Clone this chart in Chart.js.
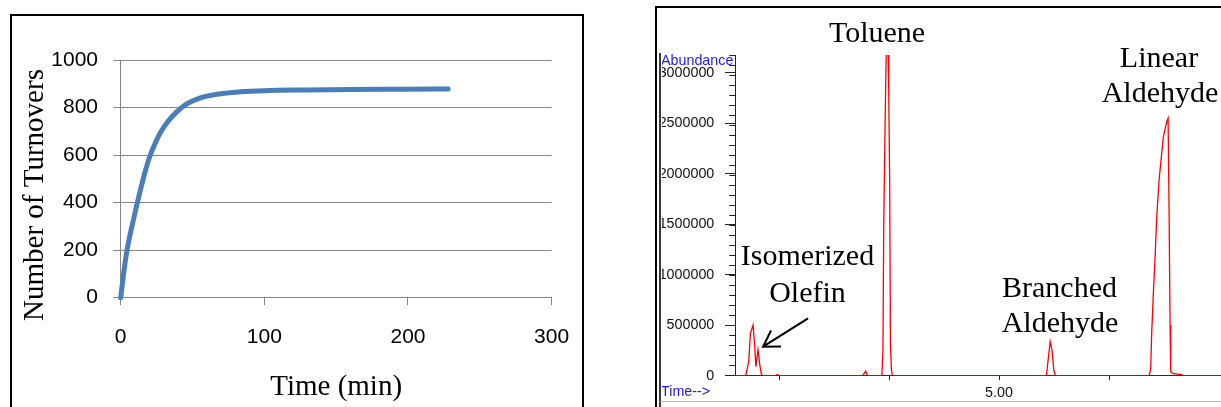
<!DOCTYPE html>
<html>
<head>
<meta charset="utf-8">
<script src="https://cdn.jsdelivr.net/npm/chart.js@4.4.1/dist/chart.umd.min.js"></script>
<style>
  html, body { margin: 0; padding: 0; background: #fff; overflow: hidden; }
  body { width: 1221px; height: 407px; position: relative; }
  .frame { position: absolute; box-sizing: border-box; }
  #leftFrame { left: 10px; top: 14px; width: 574px; height: 420px; border: 2px solid #000; }
  #rightFrame { left: 655px; top: 6px; width: 600px; height: 420px; border-left: 2px solid #000; border-top: 2px solid #000; }
  #rightInner { left: 659px; top: 53px; width: 2px; height: 360px; background: #3a3a3a; }
  #rightBottom { left: 660px; top: 401px; width: 561px; height: 1px; background: #b8b8b8; }
  canvas { position: absolute; }
  #turnoverChart { left: 12px; top: 16px; }
  #gcChart { left: 662px; top: 8px; }
</style>
</head>
<body>
<div class="frame" id="leftFrame"></div>
<div class="frame" id="rightFrame"></div>
<div class="frame" id="rightInner"></div>
<div class="frame" id="rightBottom"></div>
<canvas id="turnoverChart" width="570" height="391"></canvas>
<canvas id="gcChart" width="559" height="392"></canvas>
<script>
// left panel: turnovers vs time
const turnTime = [0, 2, 4, 6, 8, 11, 14, 17, 20, 24, 28, 33, 39, 46, 55, 67, 83, 100, 130, 160, 200, 228];
const turnCount = [0, 100, 185, 250, 305, 385, 460, 530, 590, 650, 698, 742, 782, 815, 840, 856, 866, 871, 874, 876, 877, 878];
const turnXTicks = [0, 100, 200, 300];
const turnXLabels = ['0', '100', '200', '300'];
const turnYTicks = [0, 200, 400, 600, 800, 1000];
const turnYLabels = ['0', '200', '400', '600', '800', '1000'];

// right panel: chromatogram (time in min, abundance)
const gcTime = [2.600, 2.697, 2.725, 2.740, 2.764, 2.779, 2.790, 2.809, 2.825, 2.840, 2.855,
  2.966, 2.985, 3.003, 3.761, 3.788, 3.806,
  3.929, 3.936, 3.945, 3.952, 3.964, 3.976, 3.984, 3.991, 3.997, 4.006, 4.013, 4.022, 4.031,
  5.431, 5.448, 5.465, 5.481, 5.498, 5.512,
  6.366, 6.379, 6.388, 6.403, 6.419, 6.434, 6.455, 6.473, 6.494, 6.525, 6.537, 6.546, 6.555, 6.561, 6.585, 6.662, 6.676,
  7.018];
const gcAbundance = [0, 0, 139000, 420000, 502000, 300000, 90000, 255000, 110000, 15000, 0,
  0, 12000, 0, 0, 45000, 0,
  0, 27000, 254000, 1475000, 2465000, 3300000, 3600000, 3250000, 2850000, 1940000, 305000, 60000, 0,
  0, 170000, 337000, 260000, 60000, 0,
  0, 73000, 420000, 816000, 1178000, 1574000, 1938000, 2136000, 2366000, 2515000, 2549000, 1624000, 502000, 40000, 20000, 10000, 0,
  0];
const gcMarks = [[2.70, 2.85], [2.97, 3.00], [3.76, 3.81], [3.93, 4.03], [5.43, 5.51], [6.37, 6.67]];
const gcXTicks = [3, 4, 5, 6];
const gcXLabels = ['', '', '5.00', ''];
const gcYTicks = [0, 500000, 1000000, 1500000, 2000000, 2500000, 3000000];
const gcYLabels = ['0', '500000', '1000000', '1500000', '2000000', '2500000', '3000000'];
const gcYMinorStep = 100000;

const SANS = '"Liberation Sans", Arial, sans-serif';
const SERIF = '"Liberation Serif", "Times New Roman", serif';

const yTitlePlugin = {
  id: 'yTitle',
  afterDraw(chart) {
    const ctx = chart.ctx;
    ctx.save();
    ctx.translate(30.7, 179);
    ctx.rotate(-Math.PI / 2);
    ctx.font = '29px ' + SERIF;
    ctx.fillStyle = '#000';
    ctx.textAlign = 'center';
    ctx.textBaseline = 'alphabetic';
    ctx.fillText('Number of Turnovers', 0, 0);
    ctx.restore();
  }
};

// keep the tick labels from pushing the plot area in
const noSidePad = s => { s.paddingLeft = 0; s.paddingRight = 0; };

new Chart(document.getElementById('turnoverChart'), {
  type: 'scatter',
  data: {
    datasets: [{
      data: turnTime.map((t, i) => ({ x: t, y: turnCount[i] })),
      showLine: true,
      borderColor: '#4A7EBB',
      borderWidth: 5,
      borderCapStyle: 'round',
      pointRadius: 0,
      cubicInterpolationMode: 'monotone',
      clip: false
    }]
  },
  options: {
    responsive: false,
    animation: false,
    devicePixelRatio: 1,
    layout: { padding: { top: 44, right: 30.4, bottom: 0, left: 0 } },
    plugins: { legend: { display: false }, tooltip: { enabled: false } },
    scales: {
      x: {
        type: 'linear', min: 0, max: 300,
        afterBuildTicks: s => { s.ticks = turnXTicks.map(v => ({ value: v })); },
        afterFit: s => { s.height = 109.3; noSidePad(s); },
        grid: { drawOnChartArea: false, tickLength: 7.4, color: '#868686' },
        border: { color: '#868686' },
        ticks: {
          callback: (v, i) => turnXLabels[i],
          padding: 19.3, maxRotation: 0, color: '#000', font: { family: SANS, size: 21 }
        },
        title: { display: true, text: 'Time (min)', color: '#000', font: { family: SERIF, size: 29 }, padding: { top: 0, bottom: 2.6 } }
      },
      y: {
        min: 0, max: 1000,
        afterBuildTicks: s => { s.ticks = turnYTicks.map(v => ({ value: v })); },
        afterFit: s => { s.width = 108.7; },
        grid: { tickLength: 7.4, color: '#868686' },
        border: { color: '#868686' },
        ticks: {
          callback: (v, i) => turnYLabels[i],
          padding: 15.3, color: '#000', font: { family: SANS, size: 21 }
        }
      }
    }
  },
  plugins: [yTitlePlugin]
});

// peak names and arrow for the chromatogram
const gcNotes = [
  { text: 'Toluene', x: 215, y: 34 },
  { text: 'Linear', x: 497, y: 59 },
  { text: 'Aldehyde', x: 498, y: 94 },
  { text: 'Isomerized', x: 145.5, y: 257 },
  { text: 'Olefin', x: 145.5, y: 294 },
  { text: 'Branched', x: 397.5, y: 289 },
  { text: 'Aldehyde', x: 398, y: 323.5 }
];
const gcArrow = { from: { x: 3.264, y: 568000 }, to: { x: 2.855, y: 287000 } };

const gcNotesPlugin = {
  id: 'gcNotes',
  afterDraw(chart) {
    const ctx = chart.ctx;
    const xs = chart.scales.x, ys = chart.scales.y;
    ctx.save();
    ctx.fillStyle = '#000';
    ctx.font = '30px ' + SERIF;
    ctx.textAlign = 'center';
    ctx.textBaseline = 'alphabetic';
    gcNotes.forEach(n => ctx.fillText(n.text, n.x, n.y));

    ctx.font = '14.3px ' + SANS;
    ctx.fillStyle = '#1c1cf0';
    ctx.textAlign = 'left';
    ctx.textBaseline = 'middle';
    ctx.fillText('Abundance', -1, 53.5);
    ctx.fillText('Time-->', -1, 384.5);

    const x1 = xs.getPixelForValue(gcArrow.from.x), y1 = ys.getPixelForValue(gcArrow.from.y);
    const x2 = xs.getPixelForValue(gcArrow.to.x), y2 = ys.getPixelForValue(gcArrow.to.y);
    const ang = Math.atan2(y1 - y2, x1 - x2);
    ctx.strokeStyle = '#000';
    ctx.lineWidth = 2;
    ctx.beginPath();
    ctx.moveTo(x1, y1);
    ctx.lineTo(x2, y2);
    ctx.moveTo(x2 + 18 * Math.cos(ang + 0.55), y2 + 18 * Math.sin(ang + 0.55));
    ctx.lineTo(x2, y2);
    ctx.lineTo(x2 + 18 * Math.cos(ang - 0.55), y2 + 18 * Math.sin(ang - 0.55));
    ctx.stroke();
    ctx.restore();
  }
};

const markData = [];
gcMarks.forEach(([a, b]) => {
  markData.push({ x: a, y: 0 }, { x: b, y: 0 }, { x: b, y: null });
});

new Chart(document.getElementById('gcChart'), {
  type: 'scatter',
  data: {
    datasets: [
      {
        data: markData,
        showLine: true,
        spanGaps: false,
        borderColor: '#333',
        borderWidth: 1.3,
        pointRadius: 0
      },
      {
        data: gcTime.map((t, i) => ({ x: t, y: gcAbundance[i] })),
        showLine: true,
        borderColor: '#ff0000',
        borderWidth: 1.3,
        pointRadius: 0,
        tension: 0
      }
    ]
  },
  options: {
    responsive: false,
    animation: false,
    devicePixelRatio: 1,
    layout: { padding: { top: 47, right: 0, bottom: 0, left: 0 } },
    plugins: { legend: { display: false }, tooltip: { enabled: false } },
    scales: {
      x: {
        type: 'linear', min: 2.6, max: 7.018,
        afterBuildTicks: s => { s.ticks = gcXTicks.map(v => ({ value: v })); },
        afterFit: s => { s.height = 24.3; noSidePad(s); },
        grid: { drawOnChartArea: false, tickLength: 4.5, color: '#222' },
        border: { color: '#222' },
        ticks: {
          callback: (v, i) => gcXLabels[i],
          autoSkip: false, maxRotation: 0, padding: 4.4,
          color: '#111', font: { family: SANS, size: 14.3 }
        }
      },
      y: {
        position: 'left', weight: 1,
        min: 0, max: 3175000,
        afterBuildTicks: s => { s.ticks = gcYTicks.map(v => ({ value: v })); },
        afterFit: s => { s.width = 73; },
        grid: { drawOnChartArea: false, tickLength: 10, color: '#222' },
        border: { color: '#222' },
        ticks: {
          callback: (v, i) => gcYLabels[i],
          padding: 10.7, color: '#111', font: { family: SANS, size: 14.3 }
        }
      },
      yMinor: {
        position: 'left', weight: 0,
        min: 0, max: 3175000,
        afterFit: s => { s.width = 0; },
        grid: { drawOnChartArea: false, tickLength: 5.7, color: '#222' },
        border: { display: false },
        ticks: { display: false, stepSize: gcYMinorStep, includeBounds: false }
      }
    }
  },
  plugins: [gcNotesPlugin]
});
</script>
</body>
</html>
